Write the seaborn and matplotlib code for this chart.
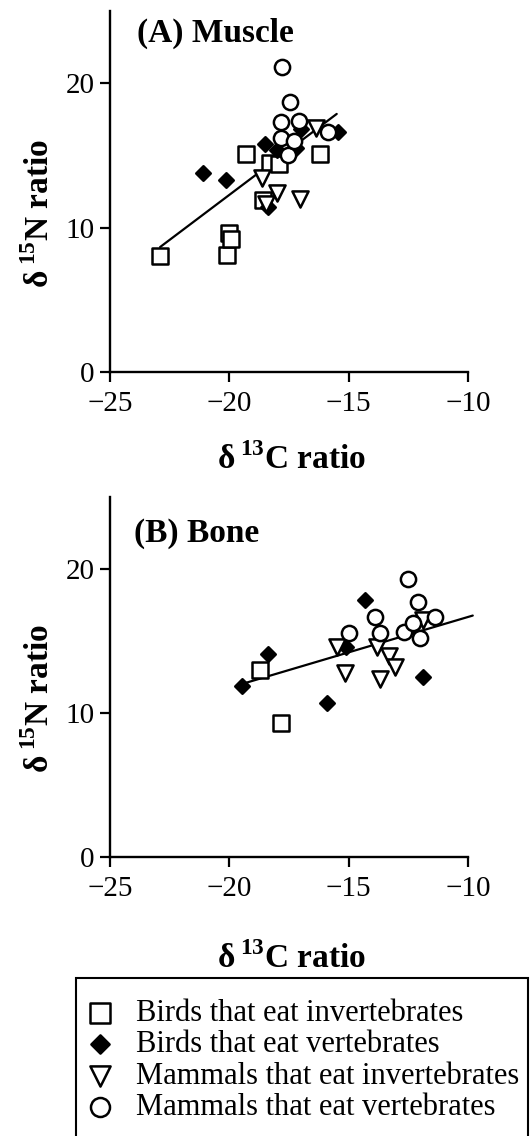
import numpy as np
import pandas as pd
import matplotlib
matplotlib.use('Agg')
import matplotlib.pyplot as plt
import seaborn as sns

# group names (legend order)
groups = ['Birds that eat invertebrates', 'Birds that eat vertebrates',
          'Mammals that eat invertebrates', 'Mammals that eat vertebrates']

# (A) Muscle - d13C / d15N per group
muscle_bird_inv_c = [-22.9, -20.1, -20.0, -19.95, -19.3, -18.3, -17.9, -18.6, -16.2]
muscle_bird_inv_n = [8.0, 8.1, 9.6, 9.2, 15.1, 14.5, 14.4, 11.9, 15.1]
muscle_bird_vert_c = [-21.1, -20.15, -18.5, -18.0, -17.2, -17.0, -15.45, -18.4]
muscle_bird_vert_n = [13.8, 13.3, 15.8, 15.4, 15.5, 16.8, 16.6, 11.4]
muscle_mam_inv_c = [-18.65, -18.0, -17.05, -16.35, -18.45]
muscle_mam_inv_n = [13.4, 12.4, 12.0, 16.9, 11.6]
muscle_mam_vert_c = [-17.8, -17.45, -17.85, -17.1, -17.85, -15.85, -17.55, -17.3]
muscle_mam_vert_n = [21.1, 18.7, 17.3, 17.4, 16.2, 16.6, 15.0, 16.0]

# (B) Bone
bone_bird_inv_c = [-18.7, -17.85]
bone_bird_inv_n = [13.0, 9.3]
bone_bird_vert_c = [-19.45, -18.4, -15.9, -14.3, -13.7, -11.9, -15.1]
bone_bird_vert_n = [11.9, 14.1, 10.7, 17.9, 15.5, 12.5, 14.6]
bone_mam_inv_c = [-15.5, -15.15, -13.8, -13.7, -13.3, -13.05, -11.9]
bone_mam_inv_n = [14.6, 12.8, 14.6, 12.4, 14.0, 13.2, 16.5]
bone_mam_vert_c = [-15.0, -13.9, -12.5, -12.1, -12.7, -12.3, -12.0, -11.4, -13.7]
bone_mam_vert_n = [15.6, 16.7, 19.35, 17.7, 15.65, 16.3, 15.2, 16.7, 15.6]

# regression lines: slope, intercept, x start, x end
muscle_fit = [1.245, 37.16, -22.9, -15.5]
bone_fit = [0.492, 21.61, -19.4, -9.8]

x_ticks = [-25, -20, -15, -10]
y_ticks = [0, 10, 20]


def make_frame(cs, ns):
    rows = []
    for g, c, n in zip(groups, cs, ns):
        rows.append(pd.DataFrame({'group': g, 'c13': c, 'n15': n}))
    return pd.concat(rows, ignore_index=True)


muscle = make_frame([muscle_bird_inv_c, muscle_bird_vert_c, muscle_mam_inv_c, muscle_mam_vert_c],
                    [muscle_bird_inv_n, muscle_bird_vert_n, muscle_mam_inv_n, muscle_mam_vert_n])
bone = make_frame([bone_bird_inv_c, bone_bird_vert_c, bone_mam_inv_c, bone_mam_vert_c],
                  [bone_bird_inv_n, bone_bird_vert_n, bone_mam_inv_n, bone_mam_vert_n])

sns.set_style('ticks')
plt.rcParams['font.family'] = ['Liberation Serif', 'DejaVu Serif']
plt.rcParams['mathtext.fontset'] = 'custom'
plt.rcParams['mathtext.rm'] = 'Liberation Serif'
plt.rcParams['mathtext.bf'] = 'Liberation Serif:bold'
plt.rcParams['axes.unicode_minus'] = True
# plain black text and axes instead of seaborn's dark grey
for key in ['text.color', 'axes.labelcolor', 'xtick.color', 'ytick.color', 'axes.edgecolor']:
    plt.rcParams[key] = 'black'

# marker look per group
marker_style = {
    groups[0]: dict(marker='s', s=130, facecolor='white'),
    groups[1]: dict(marker='D', s=55, facecolor='black'),
    groups[2]: dict(marker='v', s=135, facecolor='white'),
    groups[3]: dict(marker='o', s=120, facecolor='white'),
}

fig = plt.figure(figsize=(5.30, 11.36), dpi=100)
ax_a = fig.add_axes([0.2075, 0.6725, 0.6755, 0.318])
ax_b = fig.add_axes([0.2075, 0.2456, 0.6755, 0.3165])


def draw_panel(ax, df, fit, title, title_xy, xlab_y):
    slope, icpt, x0, x1 = fit
    xs = np.array([x0, x1])
    ax.plot(xs, slope * xs + icpt, color='black', lw=1.6, zorder=2, clip_on=False)
    for g in groups:
        st = marker_style[g]
        sns.scatterplot(data=df[df['group'] == g], x='c13', y='n15', ax=ax,
                        marker=st['marker'], s=st['s'], color=st['facecolor'],
                        edgecolor='black', linewidth=1.8, zorder=3, clip_on=False,
                        label=g, legend=False)
    ax.set_xlim(-25, -10)
    ax.set_ylim(0, 25)
    ax.set_xticks(x_ticks)
    ax.set_yticks(y_ticks)
    sns.despine(ax=ax)
    for side in ['left', 'bottom']:
        ax.spines[side].set_linewidth(1.7)
    ax.tick_params(direction='out', length=7, width=1.6, labelsize=21, pad=4)
    ax.tick_params(axis='x', pad=7)
    ax.set_xlabel('δ$\\,^{\\mathbf{13}}$C ratio', fontsize=24, fontweight='bold')
    ax.set_ylabel('δ$\\,^{\\mathbf{15}}$N ratio', fontsize=24, fontweight='bold')
    ax.xaxis.set_label_coords(0.508, xlab_y)
    ax.yaxis.set_label_coords(-0.152, 0.44)
    ax.text(title_xy[0], title_xy[1], title, transform=ax.transAxes,
            fontsize=24, fontweight='bold', va='baseline', ha='left')


draw_panel(ax_a, muscle, muscle_fit, '(A) Muscle', (0.075, 0.9135), -0.1965)
draw_panel(ax_b, bone, bone_fit, '(B) Bone', (0.067, 0.876), -0.2364)

# legend built from panel A handles
handles, labels = ax_a.get_legend_handles_labels()
leg = fig.legend(handles, labels, loc='upper left',
                 bbox_to_anchor=(76 / 530, 1 - 989 / 1136, 452 / 530, 0.01),
                 mode='expand', borderaxespad=0, frameon=True, fancybox=False,
                 edgecolor='black', framealpha=1, fontsize=22,
                 borderpad=0.7, handlelength=0.2, handletextpad=1.05,
                 labelspacing=0.08, scatterpoints=1, markerscale=1.25)
leg.get_frame().set_linewidth(1.5)

fig.savefig('out.png', dpi=100, facecolor='white')
